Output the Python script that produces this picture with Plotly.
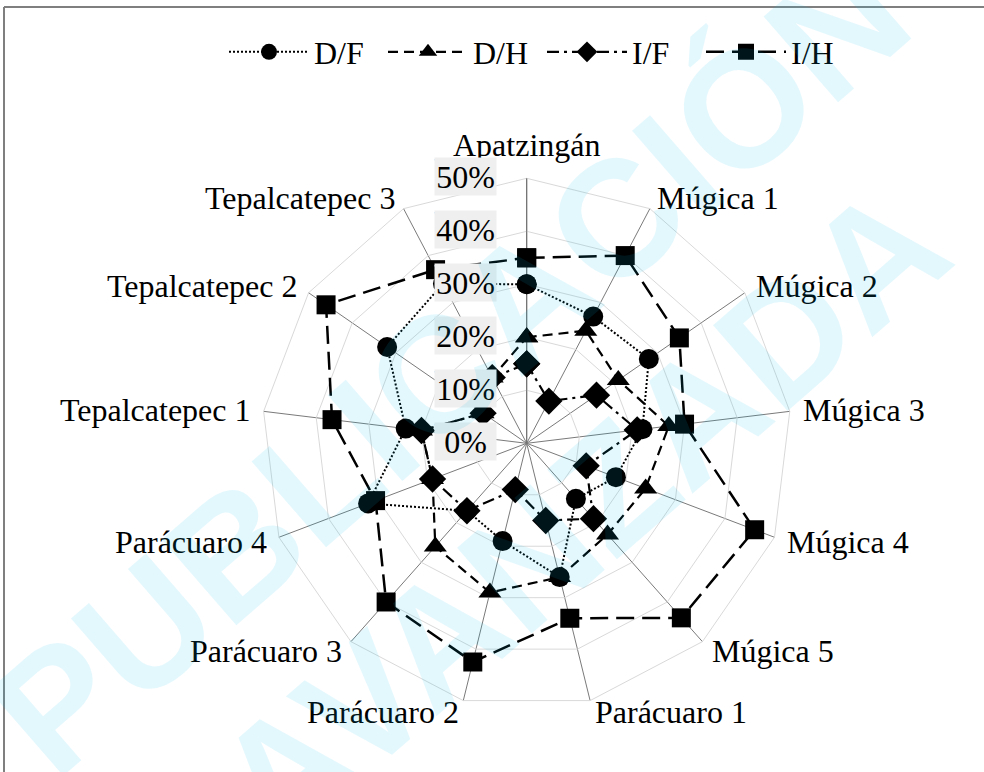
import math
import plotly.graph_objects as go

categories = ["Apatzingán", "Múgica 1", "Múgica 2", "Múgica 3", "Múgica 4", "Múgica 5",
              "Parácuaro 1", "Parácuaro 2", "Parácuaro 3", "Parácuaro 4",
              "Tepalcatepec 1", "Tepalcatepec 2", "Tepalcatepec 3"]
df_vals = [30, 27, 28, 22, 18, 14, 26, 19, 17, 32, 23, 32, 34]
dh_vals = [20, 24, 21, 27, 24, 23, 26, 29, 26, 19, 20, 10, 14]
if_vals = [15, 9, 16, 21, 12, 19, 15, 9, 17, 19, 20, 10, 14]
ih_vals = [35, 40, 35, 30, 46, 44, 34, 42.5, 40, 30.5, 37, 46, 37]
series_names = ["D/F", "D/H", "I/F", "I/H"]
tick_vals = [0, 10, 20, 30, 40, 50]
tick_text = ["0%", "10%", "20%", "30%", "40%", "50%"]
watermark_lines = ["PUBLICACIÓN", "AVANZADA"]

W, H = 984, 772
cx, cy, R = 526.7, 443.3, 265.0
RMAX = 50
FONT = "Liberation Serif"

styles = [
    dict(symbol="circle", size=20, dash="2px,2px", width=2),
    dict(symbol="triangle-up", size=20, dash="10px,6px", width=2.2),
    dict(symbol="diamond", size=21, dash="12px,5px,3px,5px", width=2.2),
    dict(symbol="square", size=19, dash="18px,8px", width=2.5),
]

fig = go.Figure()
for name, vals, st in zip(series_names, [df_vals, dh_vals, if_vals, ih_vals], styles):
    fig.add_trace(go.Scatterpolar(
        r=vals + vals[:1], theta=categories + categories[:1], name=name,
        mode="lines+markers",
        line=dict(color="black", width=st["width"], dash=st["dash"]),
        marker=dict(symbol=st["symbol"], size=st["size"], color="black"),
    ))

xd = [(cx - R) / W, (cx + R) / W]
yd = [(H - cy - R) / H, (H - cy + R) / H]

fig.update_layout(
    width=W, height=H, margin=dict(l=0, r=0, t=0, b=0),
    paper_bgcolor="white", plot_bgcolor="white",
    font=dict(family=FONT, size=32, color="black"),
    polar=dict(
        domain=dict(x=xd, y=yd),
        bgcolor="white",
        gridshape="linear",
        radialaxis=dict(range=[0, RMAX], tickvals=tick_vals, showticklabels=False,
                        ticks="", showline=True, linecolor="#6e6e6e", linewidth=1,
                        gridcolor="#d9d9d9", gridwidth=1, angle=90, layer="below traces"),
        angularaxis=dict(rotation=90, direction="clockwise", type="category",
                         categoryarray=categories, categoryorder="array",
                         showline=True, linecolor="#d9d9d9", linewidth=1,
                         gridcolor="#7a7a7a", gridwidth=1, ticks="",
                         showticklabels=False, layer="below traces"),
    ),
    legend=dict(orientation="h", x=224 / W, xanchor="left", y=1 - 52 / H, yanchor="middle",
                font=dict(family=FONT, size=32, color="black"), itemwidth=80,
                entrywidth=64, entrywidthmode="pixels",
                bgcolor="rgba(0,0,0,0)"),
    showlegend=True,
)

annotations = []
# category labels placed just outside the outer polygon vertices (Excel style)
n = len(categories)
for k, cat in enumerate(categories):
    th = math.radians(90 - k * 360 / n)
    c, s = math.cos(th), math.sin(th)
    vx, vy = cx + R * c, cy - R * s
    if abs(c) < 0.05:
        px, py, xa = vx, vy - 33, "center"
    else:
        px = vx + 11 * c
        py = vy - 12 * s
        xa = "left" if c > 0 else "right"
    annotations.append(dict(x=px / W, y=1 - py / H, xref="paper", yref="paper", text=cat,
                            showarrow=False, xanchor=xa, yanchor="middle",
                            font=dict(family=FONT, size=32, color="black")))

# radial tick labels with shaded boxes
for v, t in zip(tick_vals, tick_text):
    ypx = (H - cy) + v / RMAX * R
    annotations.append(dict(x=465 / W, y=(ypx + 2) / H, xref="paper", yref="paper",
                            text=t, showarrow=False, xanchor="center", yanchor="middle",
                            width=61, height=37, font=dict(family=FONT, size=32, color="black"),
                            bgcolor="#efefef", borderpad=0))

# watermark (semi-transparent overlay)
wm_color = "rgba(0,190,240,0.11)"
wm_centers = [(450, 364), (581, 515)]
for txt, (wx, wy) in zip(watermark_lines, wm_centers):
    annotations.append(dict(x=wx / W, y=1 - wy / H, xref="paper", yref="paper",
                            text="<b>" + txt + "</b>", showarrow=False, textangle=-41,
                            xanchor="center", yanchor="middle",
                            font=dict(family="Liberation Sans", size=165, color=wm_color)))
fig.update_layout(annotations=annotations)

shapes = []
for v in tick_vals:
    ytop = (H - cy) + v / RMAX * R + 18.5
    shapes.append(dict(type="line", xref="paper", yref="paper", x0=434.5 / W, x1=495.5 / W,
                       y0=ytop / H, y1=ytop / H, line=dict(color="#b4d3ee", width=1.5)))
shapes.append(dict(type="line", xref="paper", yref="paper", x0=4 / W, x1=1.01,
                   y0=1 - 7 / H, y1=1 - 7 / H, line=dict(color="#7f7f7f", width=2)))
shapes.append(dict(type="line", xref="paper", yref="paper", x0=4 / W, x1=4 / W,
                   y0=-0.01, y1=1 - 7 / H, line=dict(color="#7f7f7f", width=2)))
fig.update_layout(shapes=shapes)

fig.write_html("out.html", config={"displayModeBar": False},
               post_script="document.body.style.margin='0';document.body.style.padding='0';")
